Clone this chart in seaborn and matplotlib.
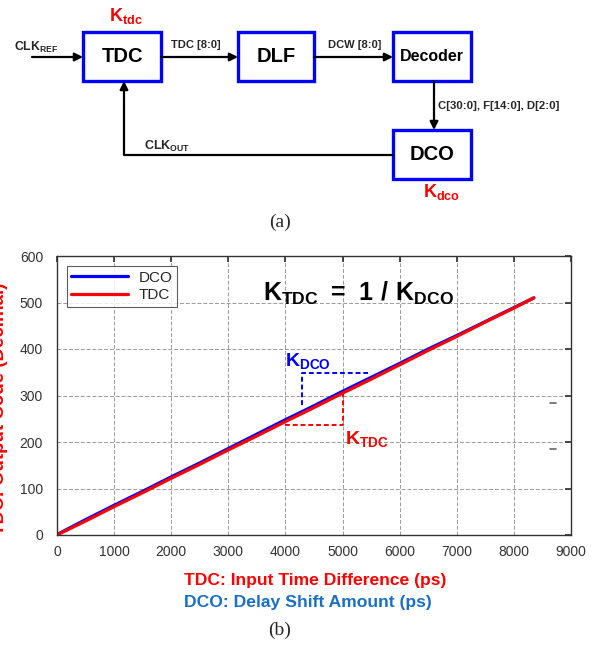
import numpy as np
import pandas as pd
import seaborn as sns
import matplotlib.pyplot as plt
from matplotlib.patches import Rectangle

# dane z wykresu (b)
x_ps = [0, 500, 1000, 1500, 2000, 2500, 3000, 3500, 4000, 4500, 5000,
        5500, 6000, 6500, 7000, 7500, 8000, 8350]
tdc_code = [0, 30, 61, 91, 122, 152, 183, 213, 244, 274, 305,
            335, 366, 397, 427, 458, 488, 510]
dco_code = [1, 33, 64, 94, 125, 155, 186, 217, 248, 278, 309,
            339, 369, 400, 429, 459, 489, 510]

x_ticks = [0, 1000, 2000, 3000, 4000, 5000, 6000, 7000, 8000, 9000]
y_ticks = [0, 100, 200, 300, 400, 500, 600]

# schemat blokowy (a): nazwa, x, y, szer, wys, rozmiar czcionki
blocks = [("TDC", 83, 32, 78, 49, 14.5),
          ("DLF", 238, 32, 76, 49, 14.5),
          ("Decoder", 393, 32, 78, 49, 11.5),
          ("DCO", 393, 130, 78, 49, 14.5)]

BLUE = "#0000FF"
RED = "#FF0000"

sns.set_theme(style="white")
plt.rcParams["font.family"] = ["Liberation Sans", "DejaVu Sans"]
plt.rcParams["mathtext.fontset"] = "custom"
plt.rcParams["mathtext.rm"] = "Liberation Sans"
plt.rcParams["mathtext.bf"] = "Liberation Sans:bold"

fig = plt.figure(figsize=(5.95, 6.45), dpi=100)

# --- schemat (a) w układzie pikseli
dax = fig.add_axes([0, 0, 1, 1])
dax.set_xlim(0, 595)
dax.set_ylim(645, 0)
dax.axis("off")

for name, bx, by, bw, bh, fs in blocks:
    dax.add_patch(Rectangle((bx, by), bw, bh, fill=False, ec=BLUE, lw=2.4))
    dax.text(bx + bw / 2, by + bh / 2, name, ha="center", va="center",
             fontsize=fs, fontweight="bold", color="black")

arrow = dict(arrowstyle="-|>", color="black", lw=1.6, mutation_scale=12,
             shrinkA=0, shrinkB=0)
dax.annotate("", xy=(83, 57), xytext=(32, 57), arrowprops=arrow)
dax.annotate("", xy=(238, 57), xytext=(161, 57), arrowprops=arrow)
dax.annotate("", xy=(393, 57), xytext=(314, 57), arrowprops=arrow)
dax.annotate("", xy=(434, 130), xytext=(434, 81), arrowprops=arrow)
dax.plot([393, 124, 124], [155, 155, 100], color="black", lw=1.6)
dax.annotate("", xy=(124, 81), xytext=(124, 100), arrowprops=arrow)

dax.text(14, 47, r"CLK$_{\mathbf{REF}}$", fontsize=8.8, fontweight="bold", va="center")
dax.text(171, 45, "TDC [8:0]", fontsize=8, fontweight="bold", va="center")
dax.text(328, 45, "DCW [8:0]", fontsize=8, fontweight="bold", va="center")
dax.text(438, 106, "C[30:0], F[14:0], D[2:0]", fontsize=8.2, fontweight="bold", va="center")
dax.text(144, 146, r"CLK$_{\mathbf{OUT}}$", fontsize=9, fontweight="bold", va="center")
dax.text(109, 16, r"K$_{\mathbf{tdc}}$", fontsize=13, fontweight="bold", color=RED, va="center")
dax.text(423, 192, r"K$_{\mathbf{dco}}$", fontsize=13, fontweight="bold", color=RED, va="center")
dax.text(280, 222, "(a)", fontsize=14, family="Liberation Serif", ha="center", va="center")
dax.text(280, 630, "(b)", fontsize=14, family="Liberation Serif", ha="center", va="center")

# --- wykres (b)
ax = fig.add_axes([57 / 595, 1 - 535 / 645, 514 / 595, 279 / 645])
df = pd.DataFrame({"x": x_ps * 2,
                   "code": dco_code + tdc_code,
                   "typ": ["DCO"] * len(x_ps) + ["TDC"] * len(x_ps)})
sns.lineplot(data=df, x="x", y="code", hue="typ", palette={"DCO": BLUE, "TDC": RED},
             linewidth=2.3, ax=ax)

ax.set_xlim(0, 9000)
ax.set_ylim(0, 600)
ax.set_xticks(x_ticks)
ax.set_yticks(y_ticks)
ax.grid(True, color="#9a9a9a", linestyle=(0, (4, 2)), linewidth=0.7)
ax.tick_params(direction="in", length=4, labelsize=10, labelcolor="#333333",
               top=True, right=True, color="#333333")
ax.tick_params(axis="y", pad=10)
ax.tick_params(axis="x", pad=7)
for s in ax.spines.values():
    s.set_color("#333333")
    s.set_linewidth(1.0)
ax.set_xlabel("")
ax.set_ylabel("")

leg = ax.legend(loc="upper left", bbox_to_anchor=(0.019, 0.964), fontsize=11,
                frameon=True, fancybox=False, edgecolor="#333333", borderaxespad=0,
                handlelength=3.7, borderpad=0.3, labelspacing=0.25, handletextpad=0.7)
leg.get_frame().set_linewidth(0.8)
for line in leg.get_lines():
    line.set_linewidth(2.3)

# trójkąty nachylenia
ax.plot([4000, 5000, 5000], [237, 237, 305], color=RED, lw=1.4, ls=(0, (2.5, 1.5)))
ax.plot([4290, 4290, 5450], [280, 348, 348], color=BLUE, lw=1.4, ls=(0, (2.5, 1.5)))
ax.text(3990, 352, r"$\mathbf{K_{DCO}}$", color=BLUE, fontsize=14, va="bottom")
ax.text(5050, 228, r"$\mathbf{K_{TDC}}$", color=RED, fontsize=14, va="top")
ax.text(3600, 520, r"$\mathbf{K_{TDC}\ =\ 1\ /\ K_{DCO}}$", color="black",
        fontsize=18, va="center")

# drobne znaczniki przy prawej krawędzi
ax.plot([8640, 8740], [283, 283], color="#666666", lw=1.2)
ax.plot([8640, 8740], [185, 185], color="#666666", lw=1.2)

fig.text(184 / 595, 1 - 580 / 645, "TDC: Input Time Difference (ps)", color=RED,
         fontsize=12.6, fontweight="bold", va="center")
fig.text(184 / 595, 1 - 603 / 645, "DCO: Delay Shift Amount (ps)", color="#1a6fc4",
         fontsize=12.6, fontweight="bold", va="center")
fig.text(0.0, 1 - 409 / 645, "TDC: Output Code (Decimal)", color=RED, rotation=90,
         fontsize=13.5, fontweight="bold", ha="center", va="center")

fig.savefig("out.png", dpi=100)
